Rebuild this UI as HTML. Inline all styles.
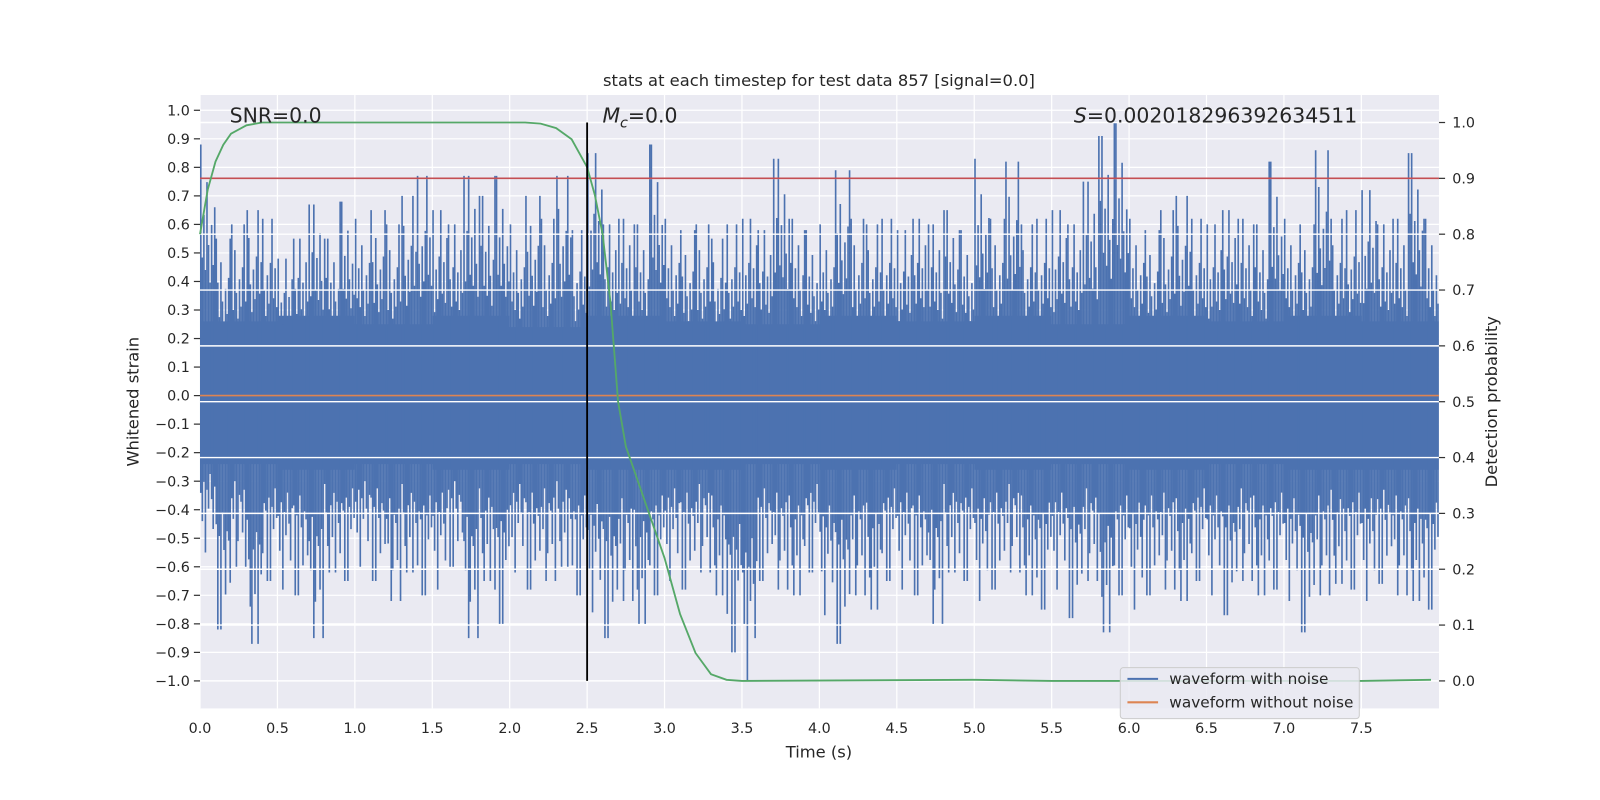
<!DOCTYPE html>
<html><head><meta charset="utf-8"><style>
html,body{margin:0;padding:0;background:#fff;overflow:hidden;width:100%;height:100%}
svg{display:block;width:100vw;height:100vh}
svg text{font-family:"DejaVu Sans","Liberation Sans",sans-serif;fill:#262626}
</style></head><body>
<svg id="c" viewBox="1.17 1.77 1566.5 785.1" preserveAspectRatio="none" xmlns="http://www.w3.org/2000/svg"></svg>
<script>
const upper=[0.88,0.55,0.60,0.65,0.62,0.48,0.55,0.67,0.55,0.68,0.62,0.65,0.60,0.70,0.77,0.65,0.60,0.77,0.70,0.77,
0.60,0.70,0.62,0.77,0.58,0.85,0.60,0.62,0.60,0.88,0.62,0.58,0.60,0.55,0.60,0.62,0.58,0.83,0.62,0.58,
0.60,0.79,0.62,0.60,0.62,0.58,0.62,0.60,0.65,0.58,0.83,0.62,0.82,0.60,0.62,0.65,0.60,0.75,0.91,0.96,
0.62,0.58,0.65,0.70,0.62,0.60,0.65,0.62,0.60,0.82,0.62,0.60,0.86,0.62,0.65,0.72,0.60,0.62,0.85,0.62];
const lower=[-0.55,-0.82,-0.6,-0.87,-0.65,-0.68,-0.70,-0.85,-0.62,-0.65,-0.60,-0.65,-0.72,-0.62,-0.70,-0.68,-0.60,-0.85,-0.65,-0.80,
-0.62,-0.68,-0.65,-0.60,-0.70,-0.76,-0.85,-0.72,-0.80,-0.70,-0.65,-0.68,-0.62,-0.70,-0.90,-1.0,-0.65,-0.68,-0.70,-0.62,
-0.77,-0.87,-0.70,-0.75,-0.65,-0.68,-0.70,-0.80,-0.62,-0.65,-0.72,-0.68,-0.62,-0.70,-0.75,-0.68,-0.78,-0.65,-0.83,-0.70,
-0.75,-0.70,-0.68,-0.72,-0.65,-0.70,-0.77,-0.65,-0.70,-0.68,-0.72,-0.83,-0.70,-0.66,-0.68,-0.72,-0.66,-0.70,-0.72,-0.75];
const bodyTop=[0.26,0.28,0.25,0.28,0.24,0.28,0.26,0.25,0.28,0.26,0.28,0.25,0.28,0.26,0.28,0.26];
const bodyBot=[-0.24,-0.26,-0.24,-0.26,-0.24,-0.26,-0.26,-0.24,-0.26,-0.24,-0.26,-0.24,-0.26,-0.24,-0.26,-0.26];
const probT=[0,0.05,0.1,0.15,0.2,0.3,0.4,2.1,2.2,2.3,2.4,2.5,2.55,2.6,2.65,2.7,2.75,2.8,2.9,3.0,3.1,3.2,3.3,3.4,3.5,5.0,5.5,7.5,7.95];
const probV=[0.8,0.88,0.93,0.96,0.98,0.995,1,1,0.998,0.99,0.97,0.92,0.87,0.8,0.68,0.5,0.42,0.38,0.3,0.22,0.12,0.05,0.012,0.002,0,0.002,0,0,0.002];
const leftTicks=[-1,-0.9,-0.8,-0.7,-0.6,-0.5,-0.4,-0.3,-0.2,-0.1,0,0.1,0.2,0.3,0.4,0.5,0.6,0.7,0.8,0.9,1];
const rightTicks=[0,0.1,0.2,0.3,0.4,0.5,0.6,0.7,0.8,0.9,1];
const xTicks=[0,0.5,1,1.5,2,2.5,3,3.5,4,4.5,5,5.5,6,6.5,7,7.5];

const L=197,R=1410,T=95,B=697;
const X=t=>L+t*151.6;
const YL=v=>390-v*280;
const YR=v=>670-v*548;
const svg=document.getElementById('c');
const NS='http://www.w3.org/2000/svg';
function mk(tag,a,parent){const e=document.createElementNS(NS,tag);for(const k in a)e.setAttribute(k,a[k]);(parent||svg).appendChild(e);return e;}

let bg=mk('rect',{x:L,y:T,width:R-L,height:B-T,fill:'#EAEAF2'});


xTicks.forEach(t=>{let g=mk('line',{x1:X(t),x2:X(t),y1:T,y2:B,stroke:'#fff','stroke-width':1.2});

});
leftTicks.forEach(v=>{let g=mk('line',{x1:L,x2:R,y1:YL(v),y2:YL(v),stroke:'#fff','stroke-width':1.2});

});

const gw=mk('g',{});


let d='';
bodyTop.forEach((v,i)=>{d+=(i?'L':'M')+X(i*0.5)+','+YL(v)+'L'+X(i*0.5+0.5)+','+YL(v);});
for(let i=bodyBot.length-1;i>=0;i--){d+='L'+X(i*0.5+0.5)+','+YL(bodyBot[i])+'L'+X(i*0.5)+','+YL(bodyBot[i]);}
mk('path',{d:d+'Z',fill:'#4C72B0'},gw);
const fu=[1,0.55,0.72,0.5,0.85,0.6,0.45,0.68,0.52,0.75];
const fd=[0.62,0.8,0.55,1,0.6,0.72,0.5,0.66,0.85,0.58];
upper.forEach((v,i)=>{
  const t=i*0.1;
  for(let k=0;k<10;k++){
    const tt=t+0.005+k*0.01;
    const a=(k===0)?1:fu[(k+i)%10];
    const b=(k===3)?1:fd[(k+2*i)%10];
    let s=mk('line',{x1:X(tt),x2:X(tt),y1:YL(v*a),y2:YL(lower[i]*b),stroke:'#4C72B0','stroke-width':1.6},gw);
    
    
  }
});
rightTicks.forEach(v=>{let g=mk('line',{x1:L,x2:R,y1:YR(v),y2:YR(v),stroke:'#fff','stroke-width':1.4});

});

let orl=mk('line',{x1:L,x2:R,y1:YL(0),y2:YL(0),stroke:'#DD8452','stroke-width':1.6});


let red=mk('line',{x1:L,x2:R,y1:YR(0.9),y2:YR(0.9),stroke:'#C44E52','stroke-width':1.6});


let gp=probT.map((t,i)=>(i?'L':'M')+X(t)+','+YR(probV[i])).join('');
let gl=mk('path',{d:gp,fill:'none',stroke:'#55A868','stroke-width':1.8});


let vl=mk('line',{x1:X(2.5),x2:X(2.5),y1:YR(1),y2:YR(0),stroke:'#000','stroke-width':1.8});



leftTicks.forEach(v=>{
  mk('line',{x1:L-6,x2:L,y1:YL(v),y2:YL(v),stroke:'#333','stroke-width':1.2});
  let t=mk('text',{x:L-10,y:YL(v)+5,'text-anchor':'end','font-size':14});
  t.textContent=(v<0?'\u2212':'')+Math.abs(v).toFixed(1);
  
  
});
rightTicks.forEach(v=>{
  mk('line',{x1:R,x2:R+6,y1:YR(v),y2:YR(v),stroke:'#333','stroke-width':1.2});
  let t=mk('text',{x:R+13,y:YR(v)+5,'font-size':14});
  t.textContent=v.toFixed(1);
  
  
});
xTicks.forEach(v=>{
  let t=mk('text',{x:X(v),y:B+24,'text-anchor':'middle','font-size':14});
  t.textContent=v.toFixed(1);
  
  
});
function txt(s,a,name){let t=mk('text',a);t.textContent=s;return t;}
txt('stats at each timestep for test data 857 [signal=0.0]',{x:803,y:86,'text-anchor':'middle','font-size':16},'chart-title');
txt('Time (s)',{x:803,y:745,'text-anchor':'middle','font-size':16},'x-axis-title');
txt('Whitened strain',{x:137,y:396,'text-anchor':'middle','font-size':16,transform:'rotate(-90 137 396)'},'y-axis-title');
txt('Detection probability',{x:1467,y:396,'text-anchor':'middle','font-size':16,transform:'rotate(-90 1467 396)'},'y2-axis-title');
txt('SNR=0.0',{x:226,y:122,'font-size':20},'snr-annotation');
let mc=txt('',{x:591,y:122,'font-size':20},'chirp-mass-annotation');
mc.innerHTML='<tspan font-style="italic">M</tspan><tspan font-style="italic" font-size="14" dy="5">c</tspan><tspan dy="-5">=0.0</tspan>';
let sa=txt('',{x:1330,y:122,'font-size':20,'text-anchor':'end'},'score-annotation');
sa.innerHTML='<tspan font-style="italic">S</tspan>=0.002018296392634511';

const lg=mk('g',{});


mk('rect',{x:1098,y:657,width:234,height:50,rx:3,fill:'#EAEAF2','fill-opacity':0.85,stroke:'#ccc'},lg);
mk('line',{x1:1105,x2:1135,y1:668,y2:668,stroke:'#4C72B0','stroke-width':2},lg);
mk('line',{x1:1105,x2:1135,y1:691,y2:691,stroke:'#DD8452','stroke-width':2},lg);
let l1=mk('text',{x:1146,y:673,'font-size':15},lg);l1.textContent='waveform with noise';


let l2=mk('text',{x:1146,y:696,'font-size':15},lg);l2.textContent='waveform without noise';


</script>
</body></html>
